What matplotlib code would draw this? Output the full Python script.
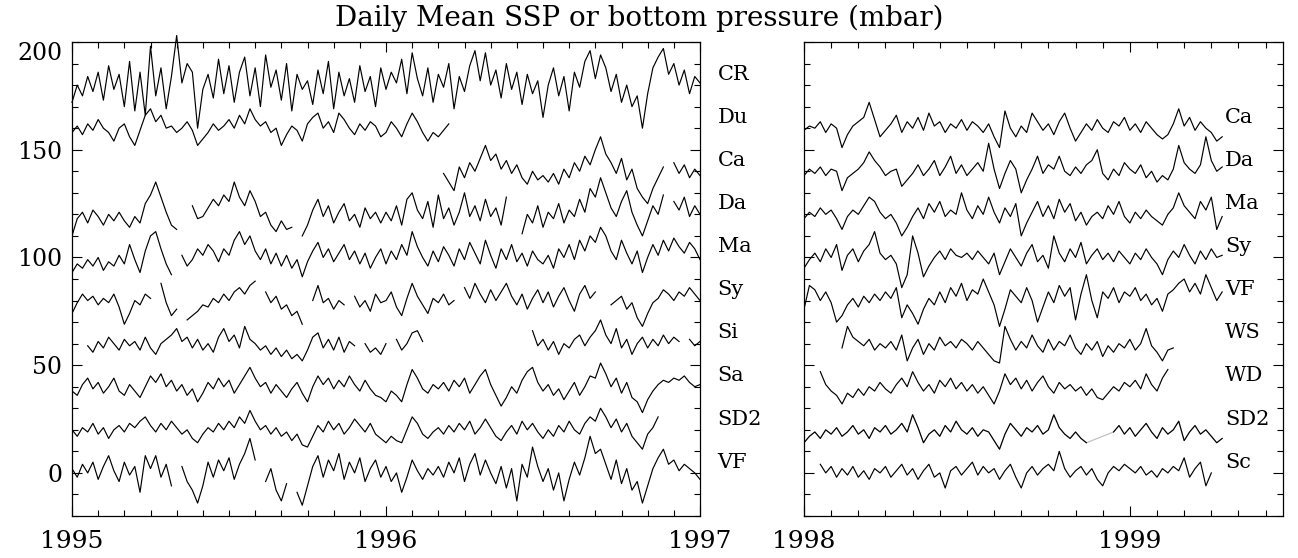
import numpy as np
import matplotlib
matplotlib.use("Agg")
import matplotlib.pyplot as plt
from matplotlib.ticker import MultipleLocator
from matplotlib.transforms import blended_transform_factory

plt.rcParams["font.family"] = ["DejaVu Serif"]

TITLE = "Daily Mean SSP or bottom pressure (mbar)"
STEP = 1 / 60  # sampling interval, in years

# ---- left panel, 1995-1997 (mbar, offset stacks as plotted) ----
left_names = ["CR", "Du", "Ca", "Da", "Ma", "Sy", "Si", "Sa", "SD2", "VF"]
left_label_y = [185, 165, 145, 125, 105, 85, 65, 45, 25, 5]
left_start = {"CR": 1995.0, "Du": 1995.0, "Ca": 1995 + 71 / 60, "Da": 1995.0,
              "Ma": 1995.0, "Sy": 1995.0, "Si": 1995 + 3 / 60, "Sa": 1995.0,
              "SD2": 1995.0, "VF": 1995.0}

cr_l = [172, 180, 175, 184, 177, 186, 173, 189, 178, 185,
        170, 191, 168, 186, 166, 198, 175, 188, 169, 184,
        203, 181, 190, 186, 160, 178, 185, 174, 192, 176,
        189, 172, 186, 193, 175, 188, 170, 194, 179, 187,
        173, 190, 168, 185, 178, 182, 171, 187, 176, 191,
        169, 186, 175, 183, 172, 189, 177, 184, 170, 188,
        178, 186, 181, 192, 176, 195, 183, 175, 188, 172,
        185, 179, 190, 169, 184, 177, 189, 196, 182, 195,
        180, 187, 174, 190, 178, 186, 171, 185, 176, 182,
        165, 180, 188, 175, 184, 168, 186, 179, 191, 196,
        183, 194, 188, 177, 185, 172, 180, 170, 175, 160,
        176, 188, 193, 197, 185, 190, 180, 187, 176, 184, 181]
du_l = [158, 161, 157, 162, 159, 164, 160, 158, 154, 160,
        162, 156, 152, 159, 166, 169, 163, 166, 160, 161,
        158, 160, 163, 159, 152, 155, 158, 162, 159, 161,
        164, 160, 166, 162, 169, 164, 161, 163, 158, 160,
        152, 157, 161, 159, 154, 162, 165, 167, 160, 163,
        158, 167, 164, 160, 157, 162, 159, 163, 161, 156,
        158, 163, 160, 156, 162, 167, 163, 158, 154, 158,
        156, 159, 162]
ca_l = [139, 135, 131, 142, 137, 144, 140, 146, 152, 145,
        148, 141, 145, 139, 143, 137, 134, 140, 136, 138,
        135, 139, 134, 141, 137, 144, 140, 147, 143, 150,
        156, 148, 144, 139, 146, 136, 141, 132, 128, 125,
        132, 137, 142, None, 144, 139, 143, 137, 141, 138]
da_l = [110, 118, 121, 116, 122, 119, 115, 120, 117, 121,
        117, 114, 119, 116, 125, 129, 135, 128, 121, 115,
        113, None, None, 124, 118, 119, 123, 127, 124, 129,
        126, 135, 128, 124, 131, 126, 119, 121, 115, 112,
        117, 113, 114, None, 110, 115, 122, 127, 119, 124,
        116, 121, 125, 117, 120, 114, 123, 118, 121, 116,
        121, 117, 124, 115, 127, 130, 122, 118, 126, 114,
        129, 118, 123, 115, 121, 130, 119, 124, 117, 127,
        119, 123, 115, 128, None, None, 111, 120, 116, 124,
        114, 121, 118, 125, 116, 122, 119, 127, 121, 132,
        128, 137, 130, 123, 119, 126, 131, 121, 115, 110,
        117, 124, 120, 129, None, 126, 122, 128, 119, 124, 120]
ma_l = [93, 97, 95, 99, 96, 100, 94, 98, 96, 101,
        97, 106, 99, 93, 103, 110, 112, 104, 97, 92,
        None, 101, 96, 99, 104, 101, 106, 103, 98, 104,
        101, 108, 112, 106, 110, 103, 99, 104, 97, 102,
        96, 101, 95, 99, 91, 98, 103, 107, 100, 104,
        98, 102, 106, 99, 103, 97, 102, 95, 100, 104,
        97, 103, 99, 106, 101, 112, 105, 100, 96, 103,
        98, 105, 101, 96, 104, 99, 107, 102, 97, 108,
        101, 95, 104, 99, 106, 98, 102, 96, 103, 99,
        97, 101, 95, 104, 100, 106, 99, 108, 103, 110,
        107, 114, 110, 103, 99, 108, 102, 97, 103, 93,
        100, 106, 101, 108, 103, 109, 105, 102, 107, 104, 99]
sy_l = [74, 79, 83, 80, 82, 78, 81, 79, 83, 77,
        69, 74, 80, 78, 83, 81, None, 88, 79, 73,
        76, None, 71, 73, 75, 78, 77, 81, 79, 83,
        80, 84, 86, 83, 87, 89, None, 84, 79, 82,
        76, 78, 73, 75, 69, None, 80, 87, 79, 81,
        76, 80, 78, None, 82, 77, 80, 75, 83, 79,
        80, 84, 77, 73, 81, 88, 82, 78, 74, 81,
        79, 83, 78, 80, None, 86, 81, 88, 83, 79,
        85, 80, 84, 88, 82, 78, 83, 76, 81, 85,
        79, 84, 77, 82, 86, 80, 75, 83, 87, 81,
        84, None, None, 78, 80, 82, 76, 79, 72, 68,
        74, 79, 81, 85, 83, 80, 84, 82, 86, 83, 80]
si_l = [59, 56, 61, 58, 63, 60, 57,
        62, 59, 61, 57, 63, 58, 55, 60, 62, 64,
        67, 61, 63, 58, 62, 57, 60, 56, 63, 67,
        61, 64, 58, 68, 62, 60, 57, 59, 55, 58,
        54, 57, 53, 55, 52, 57, 63, 65, 58, 62,
        57, 63, 56, 61, 59, None, 60, 56, 58, 55,
        60, None, 62, 57, 60, 65, 66, 61,
        None, None, None, None, None, None, None, None, None, None,
        None, None, None, None, None, None, None, None, None, None,
        66, 59, 62, 57, 61, 55, 60, 58, 62, 64, 59, 63,
        66, 71, 64, 60, 67, 58, 62, 55, 60, 63,
        58, 62, 59, 64, 60, 63, 61, None, 62, 59, 61]
sa_l = [38, 36, 41, 44, 39, 42, 37, 40, 44, 38,
        36, 41, 38, 35, 40, 45, 42, 46, 40, 43,
        38, 41, 36, 39, 33, 37, 42, 39, 44, 40,
        43, 37, 41, 45, 49, 44, 40, 42, 37, 41,
        38, 35, 39, 42, 37, 33, 40, 45, 41, 44,
        39, 43, 40, 45, 41, 38, 43, 39, 36, 35,
        33, 38, 36, 33, 41, 48, 44, 39, 37, 41,
        39, 42, 38, 43, 40, 44, 37, 41, 45, 48,
        41, 36, 31, 35, 40, 37, 43, 47, 49, 42,
        38, 41, 36, 39, 34, 38, 42, 36, 40, 45,
        44, 51, 46, 40, 44, 37, 42, 35, 33, 28,
        34, 38, 41, 43, 42, 44, 43, 45, 42, 40, 41]
sd2_l = [20, 17, 21, 19, 23, 18, 21, 16, 20, 22,
         19, 23, 21, 24, 26, 22, 19, 23, 20, 24,
         21, 18, 20, 16, 14, 18, 21, 19, 23, 20,
         24, 21, 26, 23, 29, 24, 20, 22, 18, 21,
         17, 19, 15, 18, 13, 12, 17, 22, 19, 24,
         20, 23, 18, 21, 25, 22, 19, 23, 18, 16,
         14, 17, 15, 14, 20, 26, 23, 18, 16, 19,
         21, 18, 22, 19, 23, 20, 24, 18, 21, 25,
         21, 17, 15, 19, 22, 18, 24, 20, 23, 19,
         16, 20, 17, 22, 19, 24, 20, 18, 23, 26,
         24, 30, 26, 21, 25, 19, 23, 17, 14, 11,
         18, 21, 26]
vf_l = [2, -2, 4, 0, 5, -3, 3, 8, 1, -4,
        5, -1, 3, -9, 8, 2, 8, -2, 4, -6,
        None, 3, -4, -8, -14, -6, 5, -2, 6, 1,
        7, -3, 4, 9, 16, 6, None, -4, 2, -8,
        -13, -5, None, -9, -15, -6, 3, 8, -2, 6,
        1, 9, -3, 5, 0, 7, -4, 2, 6, -2,
        3, -4, 0, -9, -2, 6, 1, -3, 2, -1,
        3, -2, 5, 0, 7, -4, 4, 9, -1, 6,
        0, -5, 3, -7, 2, -13, 4, -2, 12, 3,
        -4, 2, -8, 0, -13, -3, 5, -1, 7, 17,
        9, 11, 4, -3, 6, -5, 2, -8, -4, -14,
        -6, 2, 7, 11, 4, 6, 1, 4, 2, 0, -3]
left_series = [cr_l, du_l, ca_l, da_l, ma_l, sy_l, si_l, sa_l, sd2_l, vf_l]

# ---- right panel, 1998-1999.5 ----
right_names = ["Ca", "Da", "Ma", "Sy", "VF", "WS", "WD", "SD2", "Sc"]
right_label_y = [165, 145, 125, 105, 85, 65, 45, 25, 5]
right_start = {"Ca": 1998.0, "Da": 1998.0, "Ma": 1998.0, "Sy": 1998.0,
               "VF": 1998.0, "WS": 1998 + 7 / 60, "WD": 1998 + 3 / 60,
               "SD2": 1998.0, "Sc": 1998 + 3 / 60}

ca_r = [159, 161, 160, 163, 158, 162, 160, 151, 157, 161,
        163, 165, 172, 164, 156, 159, 162, 166, 158, 163,
        160, 165, 159, 167, 161, 163, 158, 162, 160, 164,
        159, 163, 161, 158, 162, 156, 151, 168, 160, 156,
        161, 158, 167, 163, 159, 162, 157, 163, 167, 160,
        154, 158, 162, 159, 164, 160, 158, 163, 161, 165,
        159, 162, 158, 163, 160, 157, 155, 157, 162, 169,
        161, 165, 159, 163, 160, 158, 154, 156]
da_r = [138, 141, 139, 142, 138, 141, 140, 131, 137, 139,
        141, 144, 149, 145, 142, 138, 140, 141, 133, 136,
        139, 143, 138, 141, 145, 138, 142, 147, 139, 143,
        138, 141, 144, 140, 153, 141, 132, 139, 145, 141,
        130, 136, 141, 147, 139, 143, 141, 147, 140, 138,
        142, 139, 143, 145, 150, 139, 136, 141, 138, 144,
        141, 139, 143, 137, 140, 135, 138, 136, 141, 152,
        144, 141, 139, 143, 156, 145, 140, 142]
ma_r = [118, 121, 119, 123, 120, 122, 118, 113, 119, 122,
        120, 124, 128, 126, 121, 118, 120, 116, 110, 114,
        119, 123, 118, 125, 121, 126, 119, 122, 120, 130,
        122, 118, 124, 120, 128, 121, 116, 123, 119, 125,
        110, 116, 121, 126, 119, 124, 118, 127, 121, 125,
        117, 121, 115, 119, 121, 118, 124, 120, 126, 119,
        116, 121, 118, 122, 119, 117, 115, 120, 123, 130,
        124, 121, 118, 126, 122, 128, 113, 119]
sy_r = [95, 99, 102, 98, 104, 100, 106, 94, 101, 104,
        98, 103, 106, 112, 102, 99, 101, 97, 86, 92,
        110, 102, 91, 96, 100, 103, 99, 104, 101, 100,
        102, 99, 103, 100, 97, 102, 92, 98, 104, 100,
        96, 102, 106, 98, 101, 95, 110, 102, 98, 104,
        100, 107, 97, 101, 104, 99, 102, 98, 103, 100,
        97, 102, 99, 104, 100, 97, 92, 99, 103, 100,
        106, 101, 97, 103, 99, 104, 100, 101]
vf_r = [76, 87, 85, 80, 84, 79, 70, 73, 78, 81,
        77, 82, 79, 83, 80, 84, 81, 86, 72, 78,
        74, 69, 76, 81, 78, 84, 79, 86, 82, 88,
        80, 85, 83, 90, 84, 78, 68, 76, 85, 82,
        79, 86, 80, 70, 77, 84, 79, 87, 82, 86,
        71, 83, 92, 80, 72, 84, 81, 86, 79, 84,
        82, 86, 80, 83, 78, 81, 75, 83, 85, 88,
        90, 84, 88, 83, 92, 86, 80, 84]
ws_r = [58, 68, 63,
        61, 59, 62, 57, 60, 58, 61, 57, 64, 52,
        58, 62, 55, 60, 57, 63, 59, 61, 58, 62,
        60, 57, 61, 58, 55, 52, 51, 68, 62, 57,
        61, 58, 64, 59, 56, 62, 57, 61, 59, 64,
        58, 55, 60, 57, 61, 54, 59, 56, 60, 58,
        62, 57, 60, 67, 59, 56, 52, 57, 58]
wd_r = [47, 41, 38, 36, 32, 37, 35,
        39, 36, 40, 38, 42, 39, 37, 41, 44, 40,
        47, 42, 38, 41, 37, 43, 40, 44, 39, 42,
        38, 41, 37, 40, 36, 32, 38, 46, 41, 44,
        39, 43, 38, 42, 45, 40, 37, 42, 39, 41,
        38, 40, 36, 39, 35, 34, 37, 40, 38, 42,
        40, 43, 39, 46, 41, 38, 44, 48]
sd2_r = [14, 17, 19, 16, 20, 18, 21, 17, 19, 22,
         18, 20, 16, 21, 19, 22, 18, 20, 23, 19,
         27, 21, 14, 18, 20, 17, 22, 19, 24, 20,
         18, 21, 17, 20, 19, 15, 11, 18, 23, 20,
         17, 21, 19, 22, 18, 20, 27, 21, 18, 16,
         19, 16, 14, None, None, None, None, 19, 22, 18,
         21, 17, 20, 23, 19, 16, 21, 18, 20, 24,
         15, 19, 22, 18, 20, 17, 14, 16]
sc_r = [4, 0, 3, -2, 2, -1, 3,
        -2, 1, -3, 2, 0, 3, -2, 1, 4, -1,
        2, -3, 1, 4, -2, 0, -7, 1, 3, -1,
        2, 5, -1, 3, 0, 2, -3, 1, 4, -2,
        -7, 0, 3, -1, 2, 4, 1, 10, 2, -2,
        1, 3, -1, 2, -3, -6, 0, 3, 1, 4,
        2, 0, 3, -1, 1, -2, 2, 0, 3, 1,
        7, -2, 2, 5, -6, 0]
right_series = [ca_r, da_r, ma_r, sy_r, vf_r, ws_r, wd_r, sd2_r, sc_r]


def style_axis(ax, x0, x1):
    ax.set_xlim(x0, x1)
    ax.set_ylim(-20, 200)
    ax.xaxis.set_major_locator(MultipleLocator(1))
    ax.xaxis.set_minor_locator(MultipleLocator(1 / 12))
    ax.yaxis.set_major_locator(MultipleLocator(50))
    ax.yaxis.set_minor_locator(MultipleLocator(10))
    ax.tick_params(which="both", direction="in", top=True, right=True,
                   width=0.8)
    ax.tick_params(which="major", length=7)
    ax.tick_params(which="minor", length=4)
    ax.tick_params(axis="x", pad=10, labelsize=18)
    ax.tick_params(axis="y", pad=7, labelsize=17)
    for s in ax.spines.values():
        s.set_linewidth(0.9)


fig = plt.figure(figsize=(12.98, 5.58), dpi=100)
axL = fig.add_axes([72 / 1298, 1 - 516 / 558, 628 / 1298, 474 / 558])
axR = fig.add_axes([804 / 1298, 1 - 516 / 558, 479 / 1298, 474 / 558])

style_axis(axL, 1995, 1997)
style_axis(axR, 1998, 1999.47)
axL.set_xticks([1995, 1996, 1997])
axL.set_xticklabels(["1995", "1996", "1997"])
axR.set_xticks([1998, 1999])
axR.set_xticklabels(["1998", "1999"])
axR.tick_params(labelleft=False)
for lab in axL.get_yticklabels():
    if lab.get_text() == "200":
        lab.set_va("top")

for name, vals in zip(left_names, left_series):
    v = np.array(vals, dtype=float)
    t = left_start[name] + np.arange(len(v)) * STEP
    axL.plot(t, v, color="black", lw=0.85, clip_on=(name != "CR"))

tr = blended_transform_factory(axL.transAxes, axL.transData)
for name, y in zip(left_names, left_label_y):
    axL.text(1.028, y, name, transform=tr, fontsize=15, va="center",
             ha="left", clip_on=False)

for name, vals in zip(right_names, right_series):
    v = np.array(vals, dtype=float)
    t = right_start[name] + np.arange(len(v)) * STEP
    if np.isnan(v).any():
        ok = ~np.isnan(v)
        axR.plot(t[ok], v[ok], color="#bbbbbb", lw=0.8)
    axR.plot(t, v, color="black", lw=0.85)

for name, y in zip(right_names, right_label_y):
    axR.text(1999.292, y, name, fontsize=15, va="center", ha="left")

fig.text(639 / 1298, 1 - 18 / 558, TITLE, ha="center", va="center",
         fontsize=20)

fig.savefig("out.png", dpi=100)
